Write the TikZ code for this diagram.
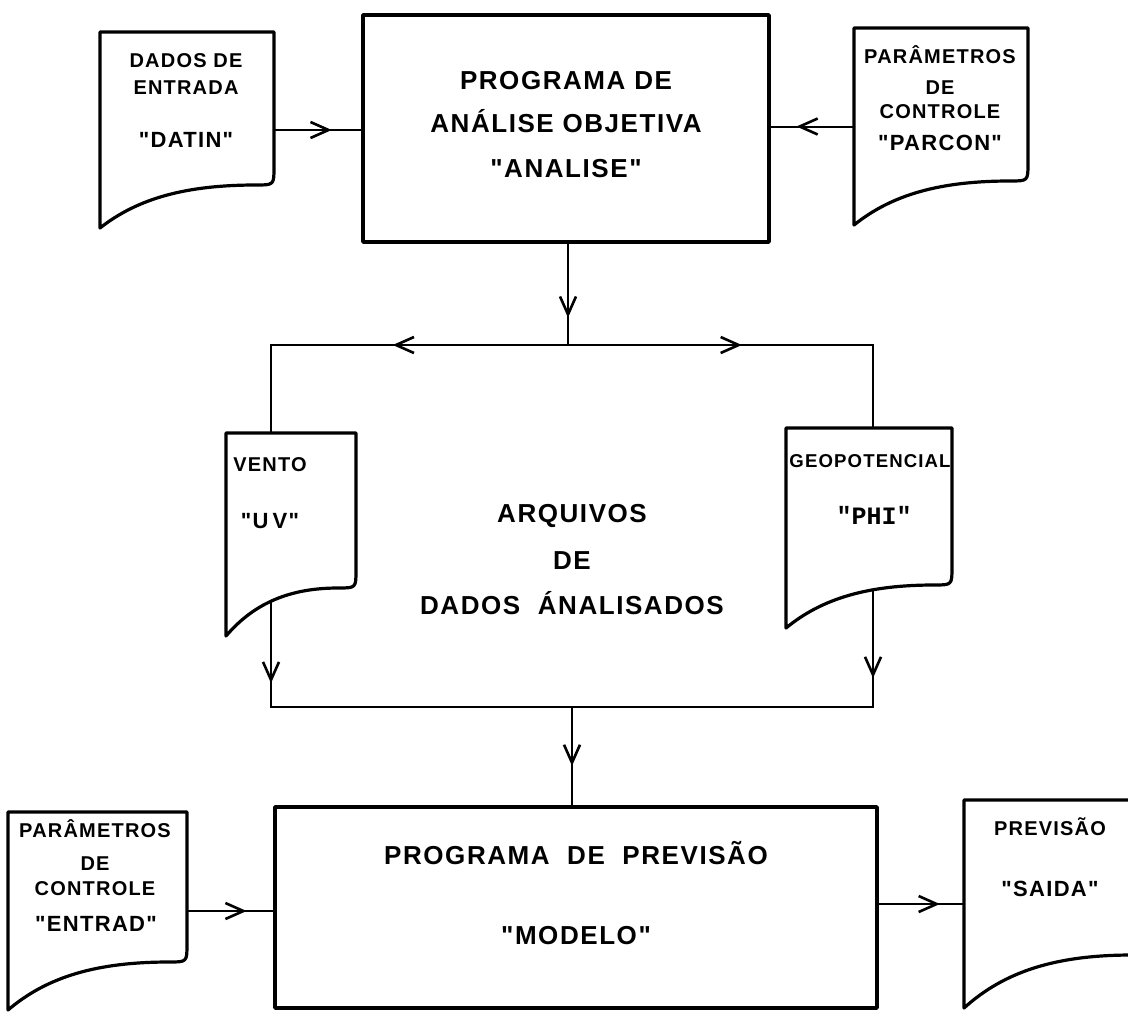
\documentclass[tikz,border=0pt]{standalone}
\usepackage{fontspec}
\setmainfont{Liberation Sans}[LetterSpace=6,Ligatures=TeXOff]
\setmonofont{Liberation Mono}[Ligatures=TeXOff]
\usetikzlibrary{arrows.meta,decorations.markings,fit}

\newcommand{\fsz}[1]{\fontsize{#1}{#1}\selectfont\bfseries}
\newcommand{\docshape}[6]{%
  \draw[docline] (#1,#2) -- (#3,#2) -- (#3,#4)
    .. controls (#3,#5) .. ({#3-18},#5)
    .. controls ({#1+0.5*(#3-#1)},#5) and ({#1+0.22*(#3-#1)},{#5+0.3*(#6-#5)}) .. (#1,#6)
    -- cycle;}

\tikzset{
  conn/.style={line width=1pt, line cap=rect},
  am/.style={postaction={decorate}, decoration={markings,
      mark=at position #1 with {\arrow{Straight Barb[length=9pt,width=8pt,line width=1.3pt]}}}},
  boxline/.style={draw, line width=1.8pt, line join=round, inner sep=0pt},
  docline/.style={line width=1.6pt, line join=round, fill=white},
  area/.style={inner sep=0pt, draw=none},
  tA/.style={anchor=base, inner sep=0pt, font=\fsz{10}},
  tB/.style={anchor=base, inner sep=0pt, font=\fsz{11}},
  tC/.style={anchor=base, inner sep=0pt, font=\fsz{13}},
  tG/.style={anchor=base, inner sep=0pt, font=\fsz{9.3}},
  tM/.style={anchor=base, inner sep=0pt, font=\ttfamily\fsz{12.5}},
}

\begin{document}
\begin{tikzpicture}[x=0.5pt,y=-0.5pt]
\useasboundingbox (0,0) rectangle (1128,1017);
\clip (0,0) rectangle (1128,1017);

% boxes
\node[boxline, fit={(363,15) (769,242)}] (box1) {};
\node[boxline, fit={(275,807) (877,1008)}] (box2) {};

% document areas
\node[area, fit={(100,32) (274,228)}] (datin) {};
\node[area, fit={(854,28) (1028,225)}] (parcon) {};
\node[area, fit={(226,433) (356,636)}] (vento) {};
\node[area, fit={(786,428) (952,628)}] (geo) {};
\node[area, fit={(8,812) (187,1010)}] (entrad) {};
\node[area, fit={(964,800) (1150,1008)}] (saida) {};

% junction points
\coordinate (split) at (568,345);
\coordinate (splitL) at (271,345);
\coordinate (splitR) at (873,345);
\coordinate (joinL) at (271,707);
\coordinate (joinR) at (873,707);
\coordinate (joinM) at (572,707);

% connectors
\draw[conn, am=0.73] (box1.south -| split) -- (split);
\draw[conn, am=0.59] (split) -- (splitL);
\draw[conn, am=0.57] (split) -- (splitR);
\draw[conn, am=0.934] (splitL) -- (joinL);
\draw[conn, am=0.92] (splitR) -- (joinR);
\draw[conn] (joinL) -- (joinR);
\draw[conn, am=0.6] (joinM) -- (joinM |- box2.north);
\draw[conn, am=0.66] (datin.east) -- (datin.east -| box1.west);
\draw[conn, am=0.69] (parcon.west) -- (parcon.west -| box1.east);
\draw[conn, am=0.69] (entrad.east) -- (entrad.east -| box2.west);
\draw[conn, am=0.72] (box2.east |- saida.west) -- (saida.west);

% document outlines
\docshape{100}{32}{274}{167}{185}{228}
\docshape{854}{28}{1028}{163}{181}{225}
\docshape{226}{433}{356}{570}{588}{636}
\docshape{786}{428}{952}{567}{585}{628}
\docshape{8}{812}{187}{944}{962}{1010}
\docshape{964}{800}{1150}{938}{955}{1008}

% box texts
\node[tC] (b1a) at (566,89) {PROGRAMA DE};
\node[tC] (b1b) at (566,132) {ANÁLISE OBJETIVA};
\node[tC] (b1c) at (566,177) {"ANALISE"};
\node[tC] (b2a) at (576,864) {PROGRAMA\ \ DE\ \ PREVISÃO};
\node[tC] (b2b) at (576,944) {"MODELO"};
\node[tC] (m1) at (572,522) {ARQUIVOS};
\node[tC] (m2) at (572,569) {DE};
\node[tC] (m3) at (572,614) {DADOS\ \ ÁNALISADOS};

% document texts
\node[tA] (d1) at (186,67) {DADOS DE};
\node[tA] (d2) at (186,94) {ENTRADA};
\node[tB] (d3) at (186,147) {"DATIN"};
\node[tA] (p1) at (940,63) {PARÂMETROS};
\node[tA] (p2) at (940,94) {DE};
\node[tA] (p3) at (940,118) {CONTROLE};
\node[tB] (p4) at (940,150) {"PARCON"};
\node[tA] (v1) at (270,471) {VENTO};
\node[tB] (v2) at (270,528) {"U\kern2pt V"};
\node[tG] (g1) at (870,467) {GEOPOTENCIAL};
\node[tM] (g2) at (874,524) {"PHI"};
\node[tA] (e1) at (95,837) {PARÂMETROS};
\node[tA] (e2) at (95,870) {DE};
\node[tA] (e3) at (95,895) {CONTROLE};
\node[tB] (e4) at (96,931) {"ENTRAD"};
\node[tA] (s1) at (1050,835) {PREVISÃO};
\node[tB] (s2) at (1050,896) {"SAIDA"};
\end{tikzpicture}
\end{document}
